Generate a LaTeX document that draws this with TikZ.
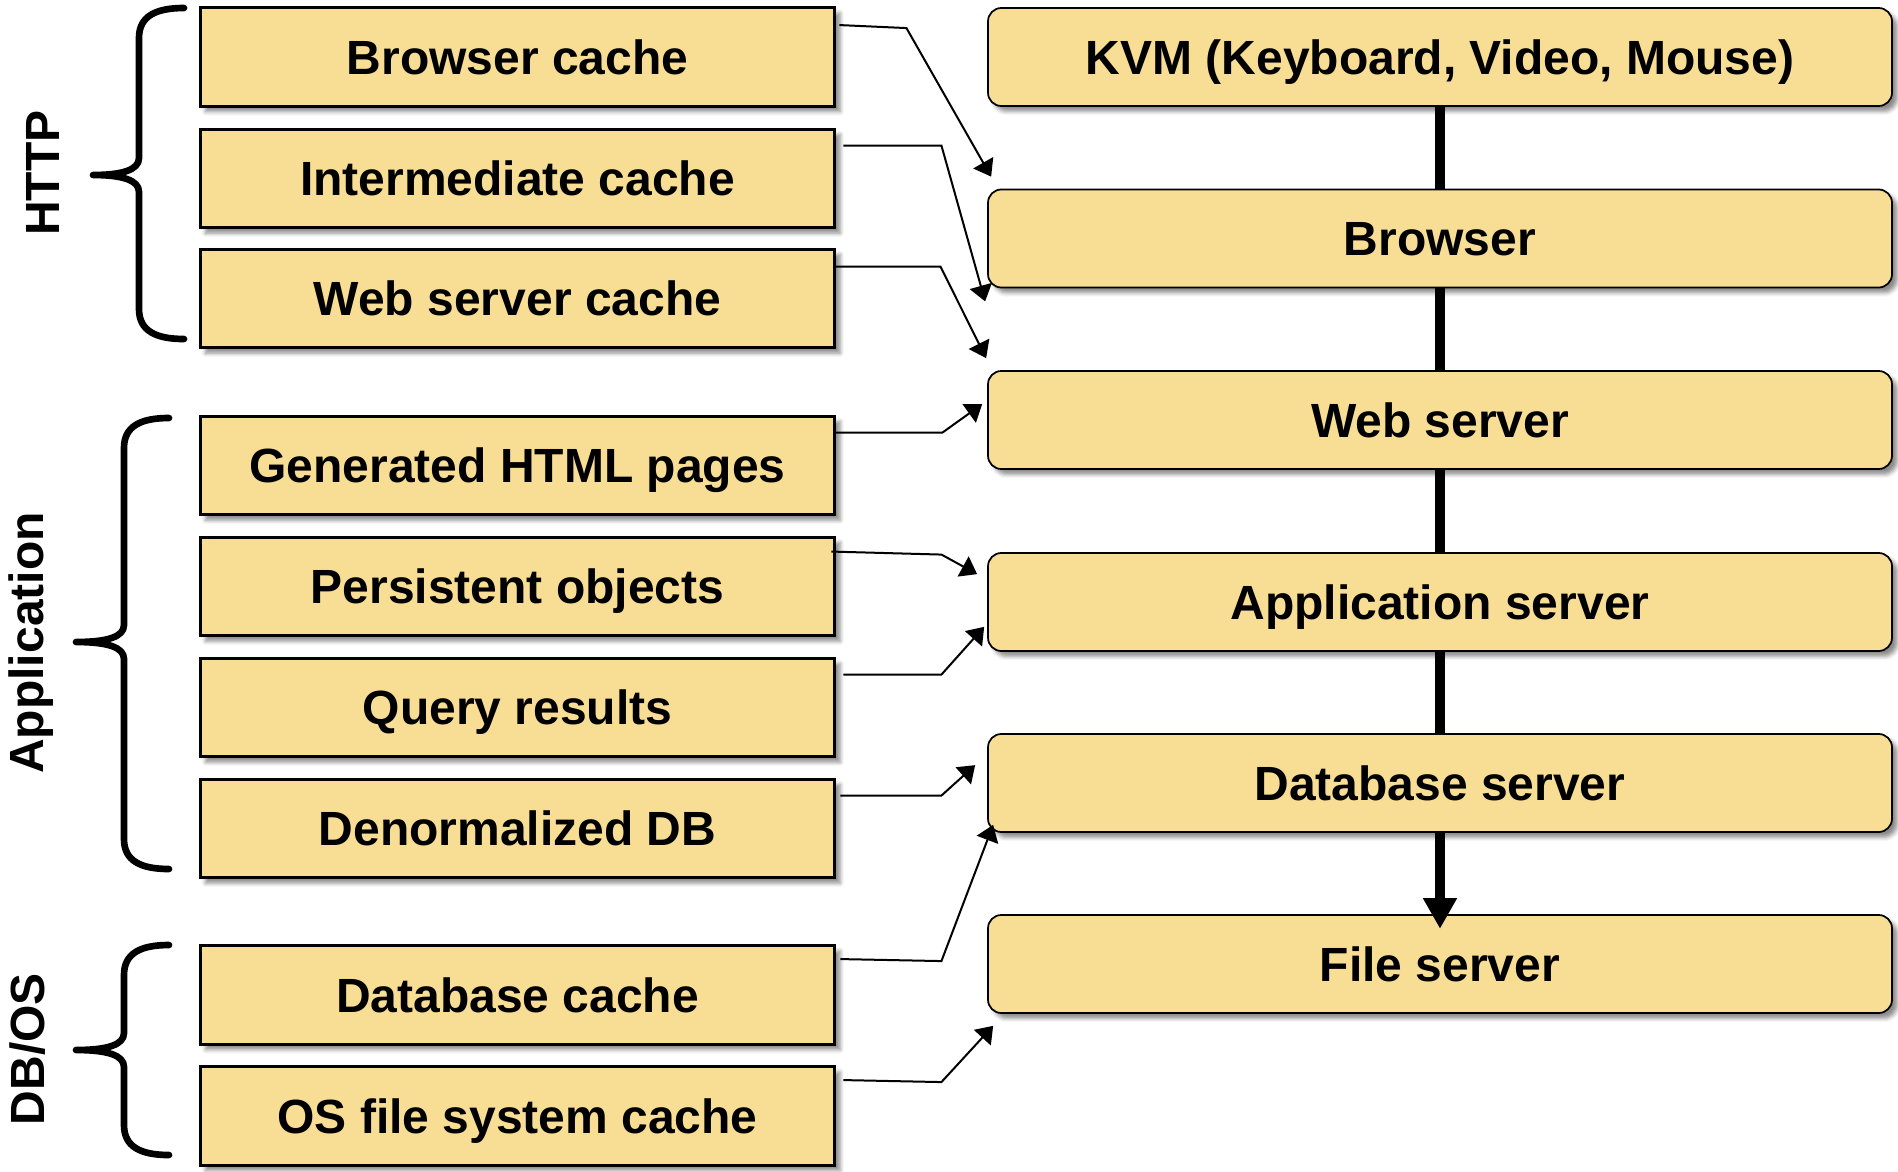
\documentclass[tikz,border=0pt]{standalone}
\usepackage{fontspec}
\setmainfont{Liberation Sans}
\usetikzlibrary{arrows.meta,calc,shadows.blur}

\definecolor{boxfill}{RGB}{248,221,148}

\tikzset{every picture/.style={line width=0.75pt}}
\tikzset{
  labelfont/.style={font=\bfseries\fontsize{36}{43}\selectfont, text height=26pt, text depth=0pt},
  softshadow/.style={blur shadow={shadow xshift=4pt, shadow yshift=-4pt, shadow blur radius=3pt, shadow opacity=45}},
  cachebox/.style={draw, line width=2.4pt, fill=boxfill, inner sep=0pt,
    minimum width=476pt, minimum height=74pt, labelfont, softshadow},
  tierbox/.style={draw, line width=1.3pt, fill=boxfill, rounded corners=10pt, inner sep=0pt,
    minimum width=678pt, minimum height=73.5pt, labelfont, softshadow},
  layer/.style={rotate=90, inner sep=0pt, labelfont},
  hop/.style={line width=1.5pt, -{Triangle[width=17pt,length=12pt]}},
  stack/.style={line width=8pt},
  curly/.style={line width=5pt, line cap=round, line join=round}
}

\begin{document}
\begin{tikzpicture}[x=0.75pt,y=0.75pt,yscale=-1,xscale=1]
\useasboundingbox (0,0) rectangle (1898,1171);

% cache boxes, left column
\node [cachebox] (bcache) at (517.5,57) {Browser cache};
\node [cachebox] (icache) at (517.5,178.5) {Intermediate cache};
\node [cachebox] (wcache) at (517.5,298.5) {Web server cache};
\node [cachebox] (html) at (517.5,465.5) {Generated HTML pages};
\node [cachebox] (pobj) at (517.5,586.5) {Persistent objects};
\node [cachebox] (qres) at (517.5,707.5) {Query results};
\node [cachebox] (ddb) at (517.5,828.5) {Denormalized DB};
\node [cachebox] (dbcache) at (517.5,995) {Database cache};
\node [cachebox] (oscache) at (517.5,1116) {OS file system cache};

% tiers, right column
\node [tierbox] (kvm) at (1440,57) {KVM (Keyboard, Video, Mouse)};
\node [tierbox] (brw) at (1440,238.5) {Browser};
\node [tierbox] (web) at (1440,420) {Web server};
\node [tierbox] (app) at (1440,602) {Application server};
\node [tierbox] (dbs) at (1440,783) {Database server};
\node [tierbox] (fsv) at (1440,964) {File server};

% stack line
\draw [stack] (kvm.south) -- (brw.north);
\draw [stack] (brw.south) -- (web.north);
\draw [stack] (web.south) -- (app.north);
\draw [stack] (app.south) -- (dbs.north);
\draw [stack, -{Triangle[width=24pt,length=23pt]}, shorten >=-11pt] (dbs.south) -- (fsv.north);

% cache -> tier
\draw [hop] ($(bcache.north east)+(3,19)$) -- ++(67,3) -- ($(brw.north west)+(4,-12)$);
\draw [hop] ($(icache.north east)+(7,18)$) -- ++(98,0) -- ($(brw.south west)+(-2,13)$);
\draw [hop] ($(wcache.north east)+(-1,19)$) -- ++(105,0) -- ($(web.north west)+(-1,-12)$);
\draw [hop] ($(html.north east)+(-1,18)$) -- ++(107,0) -- ($(web.north west)+(-5,34)$);
\draw [hop] ($(pobj.north east)+(-5,16)$) -- ++(110,3) -- ($(app.north west)+(-10,22)$);
\draw [hop] ($(qres.north east)+(7,18)$) -- ++(98,0) -- ($(app.south west)+(-3,-25)$);
\draw [hop] ($(ddb.north east)+(4,18)$) -- ++(101,0) -- ($(dbs.north west)+(-12,32)$);
\draw [hop] ($(dbcache.north east)+(4,15)$) -- ++(101,2) -- ($(dbs.south west)+(6,-8)$);
\draw [hop] ($(oscache.north east)+(7,15)$) -- ++(98,2) -- ($(fsv.south west)+(6,12)$);

% braces
\draw [curly] (184,8) .. controls (156,8) and (139,16) .. (139,38) -- (139,158) .. controls (139,170) and (122,175) .. (93,175) .. controls (122,175) and (139,180) .. (139,192) -- (139,309) .. controls (139,331) and (156,339) .. (184,339);
\draw [curly] (169,418) .. controls (141,418) and (124,426) .. (124,448) -- (124,625) .. controls (124,637) and (107,642) .. (76,642) .. controls (107,642) and (124,647) .. (124,659) -- (124,839) .. controls (124,861) and (141,869) .. (169,869);
\draw [curly] (169,945) .. controls (141,945) and (124,953) .. (124,975) -- (124,1033) .. controls (124,1045) and (107,1050) .. (76,1050) .. controls (107,1050) and (124,1055) .. (124,1067) -- (124,1125) .. controls (124,1147) and (141,1155) .. (169,1155);

% layer names
\node [layer] (http) at (42,173) {HTTP};
\node [layer] (appl) at (26.5,643) {Application};
\node [layer] (dbos) at (27.5,1049) {DB/OS};

\end{tikzpicture}
\end{document}
